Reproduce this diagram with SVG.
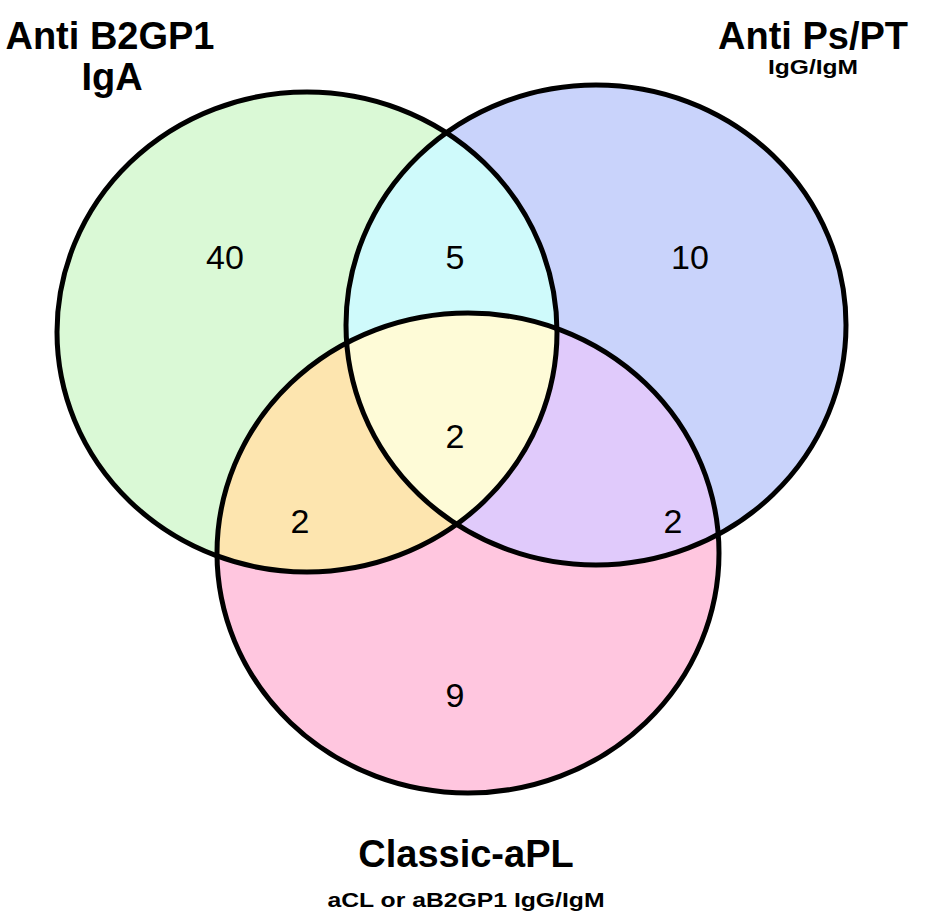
<svg xmlns="http://www.w3.org/2000/svg" width="945" height="922" viewBox="0 0 945 922">
<style>
.title{font-family:"Liberation Sans",Arial,sans-serif;font-weight:bold;font-size:38px;fill:#000;text-anchor:middle}
.sub{font-family:"Liberation Sans",Arial,sans-serif;font-weight:bold;font-size:20px;fill:#000;text-anchor:middle}
.num{font-family:"Liberation Sans",Arial,sans-serif;font-size:34px;fill:#000;text-anchor:middle}
.ring{fill:none;stroke:#000;stroke-width:5}
</style>
<defs>
<ellipse id="eG" cx="307" cy="332" rx="250" ry="240"/>
<ellipse id="eB" cx="596" cy="325" rx="250" ry="240"/>
<ellipse id="eP" cx="468" cy="553" rx="251" ry="240"/>
<clipPath id="cG"><use href="#eG"/></clipPath>
<clipPath id="cB"><use href="#eB"/></clipPath>
<clipPath id="cP"><use href="#eP"/></clipPath>
</defs>
<rect width="945" height="922" fill="#fff"/>
<g id="fills">
<use href="#eG" fill="#DAF9D6"/>
<use href="#eB" fill="#C9D3FB"/>
<use href="#eP" fill="#FFC6DF"/>
<g clip-path="url(#cG)"><use href="#eB" fill="#CFFAFB"/></g>
<g clip-path="url(#cG)"><use href="#eP" fill="#FDE5AF"/></g>
<g clip-path="url(#cB)"><use href="#eP" fill="#E0CAFB"/></g>
<g clip-path="url(#cG)"><g clip-path="url(#cB)"><use href="#eP" fill="#FEFBD7"/></g></g>
</g>
<g id="setA"><use href="#eG" class="ring"/>
<text class="title" x="110" y="49">Anti B2GP1</text>
<text class="title" x="112" y="90">IgA</text></g>
<g id="setB"><use href="#eB" class="ring"/>
<text class="title" x="813" y="49">Anti Ps/PT</text>
<text class="sub" x="813" y="74" textLength="90" lengthAdjust="spacingAndGlyphs">IgG/IgM</text></g>
<g id="setC"><use href="#eP" class="ring"/>
<text class="title" x="466" y="867">Classic-aPL</text>
<text class="sub" x="466" y="907" textLength="277" lengthAdjust="spacingAndGlyphs">aCL or aB2GP1 IgG/IgM</text></g>
<g id="counts">
<text class="num" x="225" y="269">40</text>
<text class="num" x="455" y="269">5</text>
<text class="num" x="690" y="269">10</text>
<text class="num" x="455" y="448">2</text>
<text class="num" x="300" y="533">2</text>
<text class="num" x="673" y="533">2</text>
<text class="num" x="455" y="707">9</text>
</g>
</svg>
